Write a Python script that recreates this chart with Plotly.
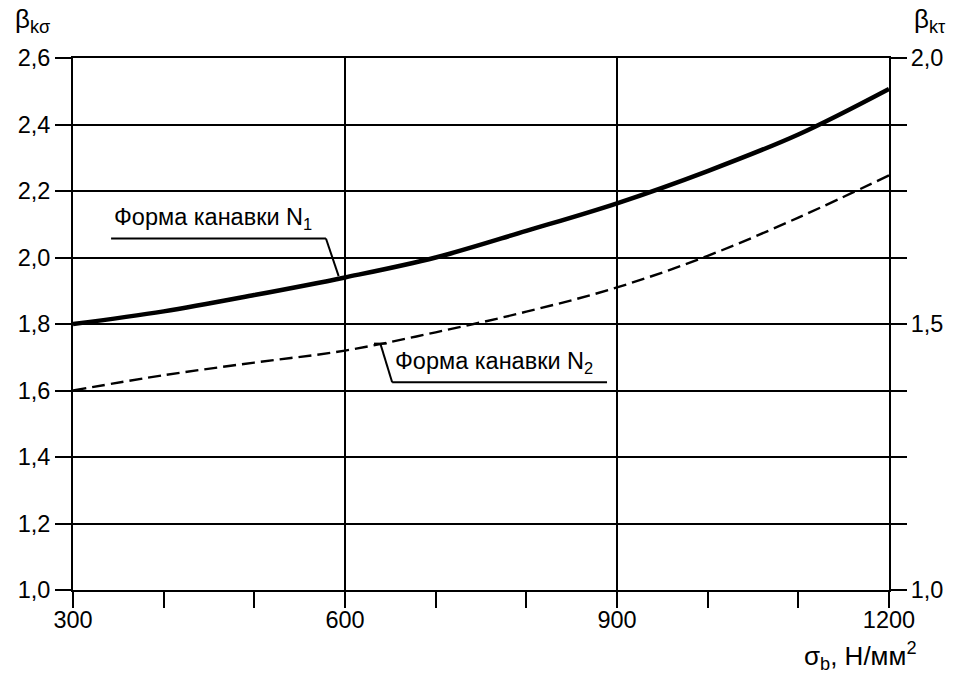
import plotly.graph_objects as go

# tensile strength sigma_b, N/mm^2
sigma_b = [300, 400, 500, 600, 700, 800, 900, 1000, 1100, 1200]
# groove form N1 (solid) and N2 (dashed), read on the left scale
beta_n1 = [1.80, 1.838, 1.887, 1.94, 2.00, 2.08, 2.163, 2.26, 2.37, 2.507]
beta_n2 = [1.60, 1.646, 1.684, 1.72, 1.775, 1.837, 1.91, 2.005, 2.12, 2.247]

left_ticks = [1.0, 1.2, 1.4, 1.6, 1.8, 2.0, 2.2, 2.4, 2.6]
right_ticks = [1.0, 1.5, 2.0]

FONT = "Liberation Sans, Arial, sans-serif"
TICK_SIZE = 23.5
LW = 2

fig = go.Figure()

fig.add_trace(go.Scatter(x=sigma_b, y=beta_n1, mode="lines",
                         line=dict(color="black", width=4.5, shape="spline"),
                         showlegend=False))
fig.add_trace(go.Scatter(x=sigma_b, y=beta_n2, mode="lines",
                         line=dict(color="black", width=2.4, dash="13px,6px", shape="spline"),
                         showlegend=False))

# invisible trace to bring the right axis to life
fig.add_trace(go.Scatter(x=[None], y=[None], yaxis="y2", showlegend=False))

# leader lines for the curve labels
leader = dict(color="black", width=2)
fig.add_shape(type="line", x0=342, y0=2.057, x1=579, y1=2.057, line=leader)
fig.add_shape(type="line", x0=579, y0=2.057, x1=593, y1=1.944, line=leader)
fig.add_shape(type="line", x0=639, y0=1.741, x1=652, y1=1.625, line=leader)
fig.add_shape(type="line", x0=652, y0=1.625, x1=889, y1=1.625, line=leader)
fig.add_shape(type="line", x0=632, y0=1.741, x1=646, y1=1.741, line=leader)

txt_font = dict(family=FONT, size=23.5, color="black")
fig.add_annotation(x=343, y=2.068, xanchor="left", yanchor="bottom", showarrow=False,
                   text="Форма канавки N<sub>1</sub>", font=txt_font)
fig.add_annotation(x=653, y=1.636, xanchor="left", yanchor="bottom", showarrow=False,
                   text="Форма канавки N<sub>2</sub>", font=txt_font)

# axis names
name_font = dict(family=FONT, size=26, color="black")
fig.add_annotation(xref="paper", yref="paper", x=-0.05, y=1.07, xanchor="center",
                   yanchor="middle", showarrow=False, text="β<sub>kσ</sub>", font=name_font)
fig.add_annotation(xref="paper", yref="paper", x=1.05, y=1.07, xanchor="center",
                   yanchor="middle", showarrow=False, text="β<sub>kτ</sub>", font=name_font)
fig.add_annotation(xref="paper", yref="paper", x=1.037, y=-0.124, xanchor="right",
                   yanchor="middle", showarrow=False, text="σ<sub>b</sub>, Н/мм<sup>2</sup>",
                   font=name_font)

tick_font = dict(family=FONT, size=TICK_SIZE, color="black")

fig.update_layout(
    width=956, height=676,
    margin=dict(l=73, r=67, t=58, b=86),
    plot_bgcolor="white", paper_bgcolor="white",
    separators=", ",
    xaxis=dict(range=[300, 1200], tickvals=[300, 600, 900, 1200],
               showgrid=True, gridcolor="black", gridwidth=LW,
               showline=True, linecolor="black", linewidth=LW, mirror=True,
               ticks="outside", ticklen=16, tickwidth=LW, tickcolor="black",
               tickfont=tick_font, zeroline=False, ticklabelstandoff=-8,
               minor=dict(tickvals=sigma_b, ticks="outside", ticklen=16,
                          tickwidth=LW, tickcolor="black", showgrid=False)),
    yaxis=dict(range=[1.0, 2.6], tickvals=left_ticks, tickformat=".1f",
               showgrid=True, gridcolor="black", gridwidth=LW,
               showline=True, linecolor="black", linewidth=LW, mirror="ticks",
               ticks="outside", ticklen=16, tickwidth=LW, tickcolor="black",
               tickfont=tick_font, zeroline=False),
    yaxis2=dict(range=[1.0, 2.0], tickvals=right_ticks, tickformat=".1f",
                overlaying="y", side="right", showgrid=False, zeroline=False,
                showline=False, ticks="outside", ticklen=16, tickwidth=LW,
                tickcolor="black", tickfont=tick_font),
)

fig.write_html("out.html", config={"displayModeBar": False},
               post_script="document.body.style.margin='0';")
